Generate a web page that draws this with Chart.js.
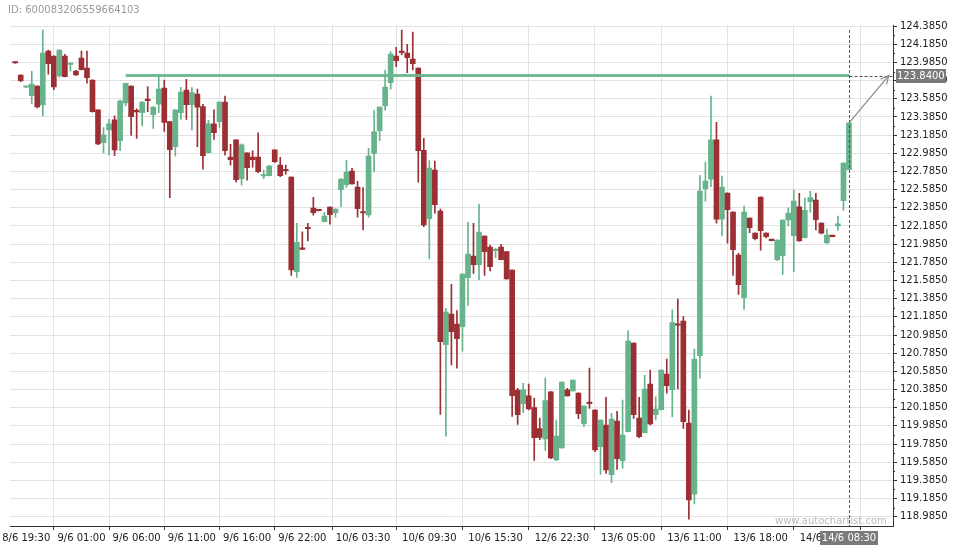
<!DOCTYPE html>
<html><head><meta charset="utf-8">
<script src="https://cdn.jsdelivr.net/npm/chart.js@4/dist/chart.umd.min.js"></script>
<style>
html,body{margin:0;padding:0;background:#fff;}
#wrap{position:relative;width:960px;height:550px;overflow:hidden;}
#idtxt{position:absolute;left:8px;top:4px;font:10px "DejaVu Sans";color:#999;}
#wm{position:absolute;left:775px;top:515px;font:10px "DejaVu Sans";color:#bbb;}
</style></head>
<body><div id="wrap"><canvas id="c" width="960" height="550"></canvas>
<div id="idtxt">ID: 600083206559664103</div><div id="wm">www.autochartist.com</div></div>
<script>
const opens = [123.990,123.847,123.712,123.619,123.726,123.517,124.111,124.056,123.836,124.056,
123.963,123.891,124.034,123.924,123.792,123.462,123.102,123.242,123.352,123.124,
123.539,123.726,123.448,123.432,123.572,123.410,123.525,123.704,123.333,123.058,
123.432,123.682,123.520,123.638,123.498,122.992,123.308,123.333,123.550,122.944,
123.132,122.706,122.989,122.944,122.944,122.735,122.739,123.022,122.856,122.801,
122.724,121.682,121.935,122.163,122.383,122.358,122.232,122.394,122.331,122.585,
122.640,122.790,122.614,122.336,122.306,122.983,123.234,123.509,123.762,124.056,
124.111,124.089,124.023,123.924,123.018,122.265,122.801,122.350,120.878,121.216,
121.106,121.077,121.616,121.855,121.759,122.075,121.954,121.913,121.954,121.902,
121.701,120.380,120.229,120.317,120.185,119.954,119.841,120.361,119.609,119.741,
120.383,120.369,120.347,120.009,120.237,120.160,119.756,119.995,119.448,120.039,
119.602,119.921,120.897,120.072,119.910,120.446,120.108,120.163,120.556,120.383,
121.099,121.139,120.017,119.232,120.757,122.596,122.699,123.132,122.259,122.548,
122.339,121.866,121.396,122.273,122.108,122.504,122.108,122.031,121.814,121.858,
122.251,122.078,122.397,122.056,122.453,122.471,122.218,121.999,122.075,122.185,
122.464,122.805];
const highs = [123.992,123.849,123.717,123.888,123.728,124.342,124.122,124.058,124.124,124.075,
123.967,123.897,124.111,124.111,123.794,123.464,123.267,123.359,123.396,123.572,
123.759,123.728,123.473,123.555,123.718,123.500,123.847,123.792,123.335,123.464,
123.712,123.800,123.707,123.693,123.525,123.348,123.462,123.555,123.616,123.084,
123.134,123.088,122.991,123.011,123.209,122.801,122.849,123.024,122.941,122.856,
122.726,122.215,122.122,122.215,122.501,122.361,122.336,122.396,122.375,122.706,
122.908,122.820,122.677,122.607,123.040,123.454,123.497,123.902,124.104,124.152,
124.342,124.185,124.320,123.926,123.150,122.904,122.900,122.372,121.279,121.543,
121.253,121.659,122.226,122.215,122.424,122.077,121.976,121.935,121.984,121.904,
121.703,120.399,120.454,120.446,120.292,120.072,120.512,120.363,120.050,120.470,
120.399,120.492,120.349,120.206,120.622,120.162,120.052,120.299,120.124,120.146,
120.270,121.033,120.899,120.299,120.542,120.600,120.306,120.602,120.721,121.261,
121.381,121.187,120.160,120.831,122.739,122.889,123.616,123.326,122.735,122.550,
122.341,121.885,122.405,122.275,122.110,122.506,122.110,122.033,122.033,122.253,
122.383,122.581,122.545,122.493,122.567,122.545,122.221,122.152,122.077,122.295,
122.880,123.321];
const lows = [123.977,123.773,123.711,123.531,123.484,123.396,123.855,123.685,123.822,123.826,
123.888,123.842,123.903,123.756,123.437,123.080,122.989,122.966,122.959,123.014,
123.506,123.183,123.150,123.286,123.443,123.260,123.432,123.227,122.497,122.955,
123.359,123.359,123.242,123.058,122.809,122.989,123.139,123.271,122.963,122.853,
122.666,122.633,122.688,122.831,122.772,122.706,122.735,122.882,122.728,122.754,
121.642,121.620,121.926,122.020,122.303,122.350,122.229,122.204,122.281,122.397,
122.611,122.645,122.281,122.141,122.281,122.779,123.124,123.459,123.690,123.938,
124.067,123.872,123.902,122.666,122.177,121.822,122.325,120.112,119.873,120.655,
120.619,120.806,121.312,121.664,121.591,121.642,121.690,121.836,121.811,121.600,
120.090,120.002,120.130,120.160,119.606,119.833,119.716,119.624,119.602,119.739,
120.312,120.367,120.064,119.976,120.178,119.701,119.452,119.463,119.360,119.507,
119.518,119.919,120.068,119.855,119.907,119.995,120.050,120.160,120.344,120.086,
120.391,119.958,118.957,119.125,120.509,122.457,122.618,122.215,122.075,121.995,
121.642,121.433,121.268,122.111,122.031,121.918,122.053,122.021,121.803,121.653,
122.185,121.682,122.018,122.054,122.336,122.141,122.097,121.994,122.065,122.138,
122.358,122.803];
const closes = [123.979,123.784,123.716,123.748,123.495,124.089,123.971,123.715,124.122,123.828,
123.966,123.847,123.905,123.817,123.443,123.088,123.187,123.308,123.022,123.561,
123.756,123.388,123.440,123.550,123.564,123.495,123.693,123.326,123.025,123.462,
123.660,123.520,123.652,123.492,122.959,123.308,123.212,123.550,123.014,122.915,
122.695,123.077,122.827,122.915,122.783,122.739,122.845,122.893,122.739,122.793,
121.701,122.006,121.928,122.155,122.331,122.353,122.295,122.309,122.372,122.702,
122.779,122.647,122.375,122.328,122.955,123.220,123.495,123.715,124.078,124.004,
124.093,124.038,123.971,123.014,122.196,122.823,122.419,120.911,121.238,121.022,
120.944,121.657,121.877,121.759,122.119,121.902,121.737,121.932,121.814,121.602,
120.317,120.108,120.383,120.171,119.855,119.859,120.262,119.631,119.873,120.468,
120.314,120.490,120.119,120.204,120.229,119.719,120.050,119.499,120.061,119.624,
119.884,120.919,120.108,119.866,120.391,120.006,120.171,120.600,120.427,121.121,
121.092,120.031,119.169,120.721,122.570,122.680,123.132,122.259,122.614,122.364,
121.924,121.539,122.339,122.166,122.045,122.133,122.067,122.023,122.031,122.251,
122.328,122.460,122.020,122.358,122.497,122.254,122.105,122.086,122.067,122.210,
122.878,123.319];
const xTickIndex = [2,12,22,32,42,52,63,75,87,99,111,123,135,147];
const xTickLabels = ['8/6 19:30','9/6 01:00','9/6 06:00','9/6 11:00','9/6 16:00','9/6 22:00',
  '10/6 03:30','10/6 09:30','10/6 15:30','12/6 22:30','13/6 05:00','13/6 11:00','13/6 18:00','14/6 06:30'];
const yTicks = [118.985,119.185,119.385,119.585,119.785,119.985,120.185,120.385,120.585,120.785,
  120.985,121.185,121.385,121.585,121.785,121.985,122.185,122.385,122.585,122.785,
  122.985,123.185,123.385,123.585,123.785,123.985,124.185,124.385];
const resistancePrice = 123.84;
const resistanceStart = 20;
const lastIndex = 151;
const lastLabel = '14/6 08:30';
const arrowEndIndex = 158.2;

const GREEN = '#66b38c';
const RED = '#9b2f34';
const colorOf = i => closes[i] >= opens[i] ? GREEN : RED;

const overlay = {
  id: 'overlay',
  afterDatasetsDraw(chart) {
    const c = chart.ctx, xs = chart.scales.x, ys = chart.scales.y, a = chart.chartArea;
    const lx = Math.round(xs.getPixelForValue(lastIndex)) + 0.5;
    const ry = Math.round(ys.getPixelForValue(resistancePrice)) + 0.5;
    c.save();
    c.strokeStyle = '#555'; c.lineWidth = 1; c.setLineDash([3, 2]);
    c.beginPath(); c.moveTo(lx, a.top + 5); c.lineTo(lx, a.bottom); c.stroke();
    c.beginPath(); c.moveTo(lx, ry); c.lineTo(a.right, ry); c.stroke();
    c.setLineDash([]);
    const x0 = xs.getPixelForValue(lastIndex), y0 = ys.getPixelForValue(closes[lastIndex]);
    const x1 = xs.getPixelForValue(arrowEndIndex), y1 = ys.getPixelForValue(resistancePrice);
    c.strokeStyle = '#888'; c.lineWidth = 1.2;
    c.beginPath(); c.moveTo(x0, y0); c.lineTo(x1, y1); c.stroke();
    const ang = Math.atan2(y1 - y0, x1 - x0), L = 9;
    c.beginPath();
    c.moveTo(x1 - L * Math.cos(ang - 0.45), y1 - L * Math.sin(ang - 0.45));
    c.lineTo(x1, y1);
    c.lineTo(x1 - L * Math.cos(ang + 0.45), y1 - L * Math.sin(ang + 0.45));
    c.stroke();
    c.restore();
  },
  afterDraw(chart) {
    const c = chart.ctx, xs = chart.scales.x, ys = chart.scales.y, a = chart.chartArea;
    c.save();
    c.strokeStyle = '#333'; c.lineWidth = 1;
    for (let i = 0; i < yTicks.length; i++) {
      const y = Math.round(ys.getPixelForValue(yTicks[i] + 0.1)) + 0.5;
      if (y > a.top && y < a.bottom) { c.beginPath(); c.moveTo(a.right, y); c.lineTo(a.right + 2, y); c.stroke(); }
    }
    const ry = Math.round(ys.getPixelForValue(resistancePrice));
    c.fillStyle = '#7a7a7a';
    c.fillRect(a.right + 3, ry - 7, 50, 14);
    c.fillStyle = '#fff'; c.font = '10px "DejaVu Sans"'; c.textBaseline = 'middle'; c.textAlign = 'left';
    c.fillText(resistancePrice.toFixed(4), a.right + 4, ry + 0.5);
    const lx = Math.round(xs.getPixelForValue(lastIndex));
    c.fillStyle = '#7a7a7a';
    c.fillRect(lx - 29, a.bottom + 5, 58, 14);
    c.fillStyle = '#fff'; c.textAlign = 'center';
    c.fillText(lastLabel, lx, a.bottom + 12.5);
    c.restore();
  }
};

new Chart(document.getElementById('c'), {
  type: 'bar',
  data: {
    datasets: [
      { type: 'line', data: [{x: resistanceStart, y: resistancePrice}, {x: lastIndex, y: resistancePrice}],
        borderColor: 'rgba(102,179,140,0.9)', borderWidth: 3, pointRadius: 0, order: 0 },
      { data: opens.map((o, i) => ({x: i, y: [o, closes[i]]})), backgroundColor: c => colorOf(c.dataIndex),
        barThickness: 5, grouped: false, minBarLength: 1.5, borderWidth: 0, order: 1 },
      { data: opens.map((o, i) => ({x: i, y: [lows[i], highs[i]]})), backgroundColor: c => colorOf(c.dataIndex),
        barThickness: 1, grouped: false, minBarLength: 1, borderWidth: 0, order: 2 }
    ]
  },
  options: {
    responsive: false, animation: false, devicePixelRatio: 1,
    layout: { padding: { left: 10, top: 25, right: 0, bottom: 0 } },
    plugins: { legend: { display: false }, tooltip: { enabled: false } },
    scales: {
      x: {
        type: 'linear', min: -0.905, max: 158.97, offset: false,
        afterBuildTicks: s => { s.ticks = xTickIndex.map(v => ({ value: v })); },
        afterFit: s => { s.height = 24; },
        ticks: { autoSkip: false, maxRotation: 0, padding: 2, color: '#222',
          font: { family: 'DejaVu Sans', size: 10 },
          callback: v => { const k = xTickIndex.indexOf(v); return k >= 0 ? xTickLabels[k] : ''; } },
        grid: { color: '#e2e2e2', tickColor: '#333', tickLength: 4 },
        border: { display: true, color: '#333' }
      },
      y: {
        type: 'linear', position: 'right', min: 118.883, max: 124.397,
        afterBuildTicks: s => { s.ticks = yTicks.map(v => ({ value: v })); },
        afterFit: s => { s.width = 67; },
        ticks: { padding: 3, color: '#222', font: { family: 'DejaVu Sans', size: 10 },
          callback: v => Number(v).toFixed(4) },
        grid: { color: '#e2e2e2', tickColor: '#333', tickLength: 4 },
        border: { display: true, color: '#333' }
      }
    }
  },
  plugins: [overlay]
});
</script>
</body></html>
